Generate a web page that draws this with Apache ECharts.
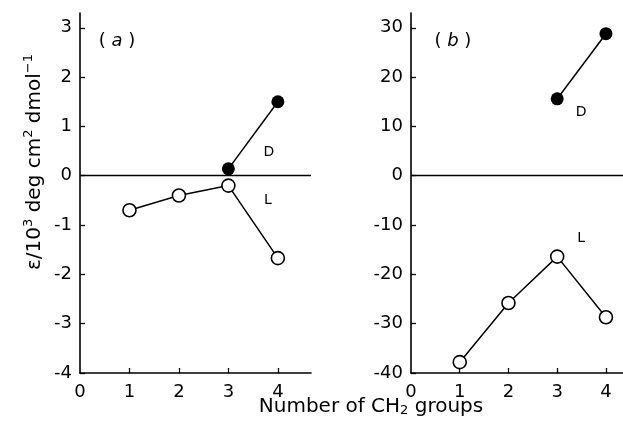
<!DOCTYPE html>
<html>
<head>
<meta charset="utf-8">
<script src="https://cdn.jsdelivr.net/npm/echarts@6/dist/echarts.min.js"></script>
<style>
  html, body { margin: 0; padding: 0; background: #fff; }
  #chart { width: 623px; height: 430px; }
</style>
</head>
<body>
<div id="chart"></div>
<script>
// Number of CH2 groups
const groups = [1, 2, 3, 4];
const groupsD = [3, 4];

// Panel (a): epsilon / 10^3 deg cm^2 dmol^-1
const aL = [-0.7, -0.4, -0.2, -1.67];
const aD = [0.14, 1.5];

// Panel (b)
const bL = [-37.8, -25.8, -16.4, -28.7];
const bD = [15.6, 28.8];

// Axis ticks
const xTicks = [0, 1, 2, 3, 4];
const yTicksA = [-4, -3, -2, -1, 0, 1, 2, 3];
const yTicksB = [-40, -30, -20, -10, 0, 10, 20, 30];

const FONT = 'DejaVu Sans';
const INK = '#000';

const pairs = (xs, ys) => xs.map((x, i) => [x, ys[i]]);

function xAxisFor(gridIndex, max) {
  return {
    type: 'value', gridIndex, min: 0, max,
    splitLine: { show: false },
    axisLine: { show: true, onZero: false, lineStyle: { color: INK, width: 1.6 } },
    axisTick: { show: true, inside: true, length: 5, customValues: xTicks.slice(1),
                lineStyle: { color: INK, width: 1.3 } },
    axisLabel: { customValues: xTicks, color: INK, fontFamily: FONT, fontSize: 18, margin: 10 }
  };
}

function yAxisFor(gridIndex, min, max, ticks) {
  return {
    type: 'value', gridIndex, min, max,
    splitLine: { show: false },
    axisLine: { show: true, onZero: false, lineStyle: { color: INK, width: 1.6 } },
    axisTick: { show: true, inside: true, length: 5, customValues: ticks,
                lineStyle: { color: INK, width: 1.3 } },
    axisLabel: { customValues: ticks, color: INK, fontFamily: FONT, fontSize: 18, margin: 8 }
  };
}

function curve(idx, data, filled, zeroLine) {
  const s = {
    type: 'line', xAxisIndex: idx, yAxisIndex: idx,
    data, symbol: 'circle', symbolSize: 13, showAllSymbol: true,
    lineStyle: { color: INK, width: 1.5 },
    itemStyle: { color: filled ? INK : '#fff', borderColor: INK, borderWidth: filled ? 0 : 1.6 },
    z: 3, animation: false
  };
  if (zeroLine) {
    s.markLine = {
      silent: true, symbol: 'none', animation: false,
      label: { show: false },
      lineStyle: { color: INK, width: 1.4, type: 'solid' },
      data: [{ yAxis: 0 }]
    };
  }
  return s;
}

// text placed in data coordinates
function tag(idx, x, y, text, size, rich) {
  return {
    type: 'scatter', xAxisIndex: idx, yAxisIndex: idx,
    data: [[x, y]], symbolSize: 0, silent: true, animation: false,
    itemStyle: { opacity: 1 },
    label: {
      show: true, position: 'inside', formatter: text, opacity: 1,
      color: INK, fontFamily: FONT, fontSize: size, rich: rich || {}
    }
  };
}

const panelRich = {
  p: { fontFamily: FONT, fontSize: 18, color: INK },
  i: { fontFamily: FONT, fontSize: 18, fontStyle: 'italic', color: INK }
};

const chart = echarts.init(document.getElementById('chart'), null, { renderer: 'canvas' });
chart.setOption({
  backgroundColor: '#fff',
  animation: false,
  grid: [
    { left: 80, top: 13, width: 231, height: 360 },
    { left: 411, top: 13, width: 212, height: 360 }
  ],
  xAxis: [xAxisFor(0, 4.67), xAxisFor(1, 4.35)],
  yAxis: [yAxisFor(0, -4, 3.3, yTicksA), yAxisFor(1, -40, 33, yTicksB)],
  series: [
    curve(0, pairs(groups, aL), false, true),
    curve(0, pairs(groupsD, aD), true, false),
    curve(1, pairs(groups, bL), false, true),
    curve(1, pairs(groupsD, bD), true, false),
    tag(0, 0.75, 2.72, '{p|( }{i|a}{p| )}', 18, panelRich),
    tag(0, 3.82, 0.47, 'D', 14),
    tag(0, 3.8, -0.5, 'L', 14),
    tag(1, 0.86, 27.2, '{p|( }{i|b}{p| )}', 18, panelRich),
    tag(1, 3.49, 12.8, 'D', 14),
    tag(1, 3.49, -12.6, 'L', 14)
  ],
  graphic: [
    {
      type: 'text', x: 35, y: 162, rotation: Math.PI / 2,
      style: {
        text: '{t|ε/10}{s|3}{t| deg cm}{s|2}{t| dmol}{s|−1}',
        align: 'center', verticalAlign: 'middle',
        rich: {
          t: { fontFamily: FONT, fontSize: 20, color: INK },
          s: { fontFamily: FONT, fontSize: 13, color: INK, padding: [0, 0, 13, 0] }
        }
      }
    },
    {
      type: 'text', x: 371, y: 407,
      style: {
        text: '{t|Number of CH}{d|2}{t| groups}',
        align: 'center', verticalAlign: 'middle',
        rich: {
          t: { fontFamily: FONT, fontSize: 20, color: INK },
          d: { fontFamily: FONT, fontSize: 13, color: INK, padding: [8, 0, 0, 0] }
        }
      }
    }
  ]
});
</script>
</body>
</html>
